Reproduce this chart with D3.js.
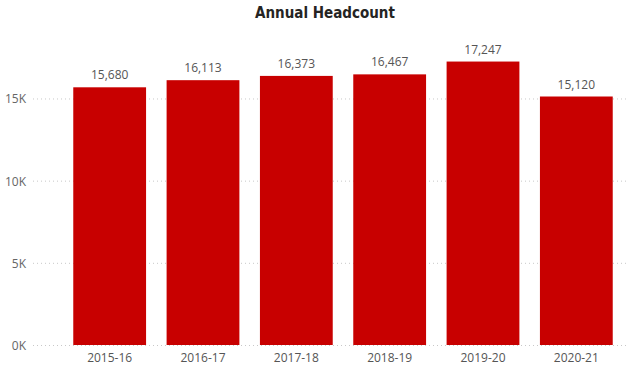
<!DOCTYPE html>
<html><head><meta charset="utf-8">
<script src="https://cdn.jsdelivr.net/npm/d3@7"></script>
<style>body{margin:0;background:#fff}</style>
</head><body>
<svg id="c" width="636" height="370"></svg>
<script>
const categories = ["2015-16","2016-17","2017-18","2018-19","2019-20","2020-21"];
const headcount = [15680,16113,16373,16467,17247,15120];
const yTicks = [0,5000,10000,15000];
const yTickLabels = ["0K","5K","10K","15K"];
const title = "Annual Headcount";

const svg = d3.select("#c");
const x = d3.scaleBand().domain(categories).range([63,623]).paddingInner(0.22).paddingOuter(0.11);
const y = d3.scaleLinear().domain([0,20000]).range([345,16.3]);

// gridlines
svg.append("g").selectAll("line").data(yTicks).join("line")
  .attr("x1",33).attr("x2",626)
  .attr("y1",d=>y(d)+0.5).attr("y2",d=>y(d)+0.5)
  .attr("stroke","#c8c8c8").attr("stroke-width",1).attr("stroke-dasharray","1,3");

// y axis labels
svg.append("g").selectAll("text").data(yTicks).join("text")
  .attr("x",26).attr("y",d=>y(d)+5)
  .attr("text-anchor","end")
  .attr("font-family","'Open Sans', sans-serif").attr("font-size",12)
  .attr("fill","#666")
  .text((d,i)=>yTickLabels[i]);

// bars
svg.append("g").selectAll("rect").data(headcount).join("rect")
  .attr("x",(d,i)=>x(categories[i]))
  .attr("width",x.bandwidth())
  .attr("y",d=>y(d))
  .attr("height",d=>y(0)-y(d))
  .attr("fill","#C80000");

// value labels
const fmt = d3.format(",");
svg.append("g").selectAll("text").data(headcount).join("text")
  .attr("x",(d,i)=>x(categories[i])+x.bandwidth()/2)
  .attr("y",d=>y(d)-8)
  .attr("text-anchor","middle")
  .attr("font-family","'Open Sans', sans-serif").attr("font-size",12)
  .attr("fill","#555")
  .text(d=>fmt(d));

// x axis labels
svg.append("g").selectAll("text").data(categories).join("text")
  .attr("x",d=>x(d)+x.bandwidth()/2)
  .attr("y",362)
  .attr("text-anchor","middle")
  .attr("font-family","'Open Sans', sans-serif").attr("font-size",12)
  .attr("fill","#555")
  .text(d=>d);

// title
svg.append("text").attr("x",325).attr("y",18)
  .attr("text-anchor","middle")
  .attr("font-family","'DejaVu Sans Condensed', 'DejaVu Sans', sans-serif")
  .attr("font-weight","bold").attr("font-size",15)
  .attr("fill","#252423")
  .text(title);
</script>
</body></html>
